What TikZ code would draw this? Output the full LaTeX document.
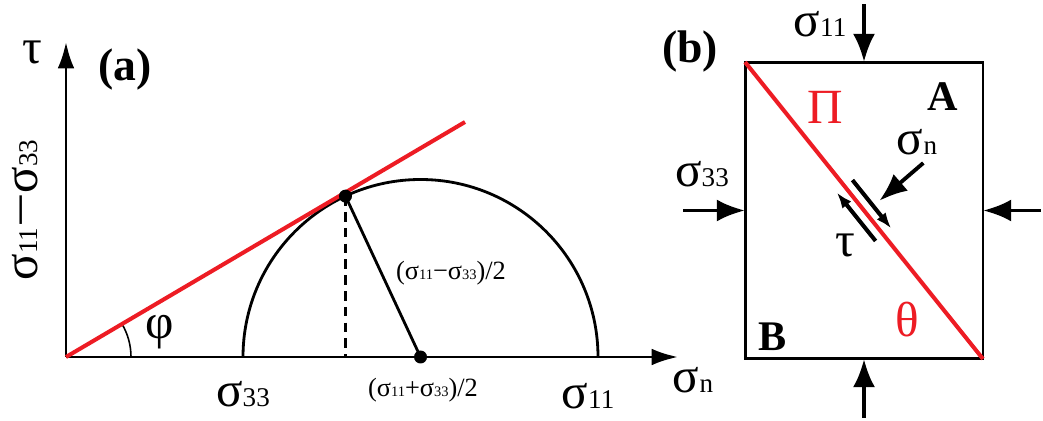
\documentclass[tikz,border=0pt]{standalone}
\usepackage{fontspec}
\setmainfont{Liberation Serif}
\usepackage{graphicx}
\usetikzlibrary{arrows.meta,calc}
\definecolor{planered}{RGB}{237,28,36}
\newcommand{\sg}[1]{σ\scalebox{0.55}{#1}}

\begin{document}
\begin{tikzpicture}[x=0.02cm, y=-0.02cm,
    axis/.style={line width=1.6pt, -{Latex[length=15pt, width=9.5pt]}},
    load/.style={line width=2.2pt, -{Latex[length=16pt, width=12.5pt]}},
    shear/.style={line width=2.3pt, -{Latex[length=9pt, width=6.5pt]}},
    plane/.style={line width=2.3pt, draw=planered},
    lbl/.style={inner sep=0pt, font=\fontsize{28}{32}\selectfont},
    small/.style={inner sep=0pt, font=\fontsize{15}{18}\selectfont},
    tag/.style={inner sep=0pt, font=\fontsize{26}{30}\selectfont\bfseries},
    dot/.style={circle, fill, inner sep=0pt, minimum size=0.26cm}
  ]
  \useasboundingbox (0,0) rectangle (1043,421);

  % (a) Mohr circle
  \coordinate (O) at (66,357);
  \coordinate (C) at (420.5,357);
  \coordinate (T) at ($(C)+(-115:177.5)$);
  \coordinate (xtip) at (678,357);
  \coordinate (ytip) at (66,42);
  \coordinate (lineend) at (465,122);

  \draw[line width=1.6pt] ($(C)+(177.5,0)$) arc[start angle=0, end angle=-180, radius=177.5];
  \draw[axis] (O) -- (xtip);
  \draw[axis] (O) -- (ytip);
  \draw[line width=1.6pt, dash pattern=on 5.5pt off 3.5pt] (T) -- (T |- O);
  \draw[line width=1.6pt] (T) -- (C);
  \draw[line width=0.9pt] ($(O)+(65,0)$) arc[start angle=0, end angle=-30.5, radius=65];
  \draw[plane] (O) -- (lineend);
  \node[dot] (Tdot) at (T) {};
  \node[dot] (Cdot) at (C) {};

  \node[lbl] (tauax) at (32,52) {τ};
  \node[tag] (taga) at (125,70) {(a)};
  \node[lbl, rotate=90] (diff) at (25,210) {\sg{11}\scalebox{1.25}[1]{−}\sg{33}};
  \node[lbl] (phi) at (160,332) {φ};
  \node[lbl] (s33) at (243,394) {\sg{33}};
  \node[lbl] (s11) at (588,396) {\sg{11}};
  \node[lbl] (snax) at (693,380) {\sg{n}};
  \node[small] (mean) at (423,390) {(\sg{11}+\sg{33})/2};
  \node[small] (rad) at (451,273) {(\sg{11}−\sg{33})/2};

  % (b) loaded block
  \node[draw, line width=1.7pt, minimum width=4.76cm, minimum height=5.94cm,
        inner sep=0pt, outer sep=0pt] (box) at (864,210.5) {};
  \draw[plane] (box.north west) -- (box.south east);
  \foreach \a/\dx/\dy in {north/0/-58, south/0/59, west/-62/0, east/58/0}
    \draw[load] ($(box.\a)+(\dx,\dy)$) -- (box.\a);

  \coordinate (M) at ($(box.north west)!0.5!(box.south east)$);
  \begin{scope}[shift={(M)}, rotate=-51.3]
    \draw[shear] (-31,-10) -- (31,-10);
    \draw[shear] (31,10) -- (-31,10);
    \draw[load] (0,-76) -- (2,-18);
  \end{scope}

  \node[tag] (tagb) at (690,52) {(b)};
  \node[lbl] (s11b) at (820,24) {\sg{11}};
  \node[lbl] (s33b) at (702,174) {\sg{33}};
  \node[tag, font=\fontsize{24}{28}\selectfont\bfseries] (A) at (943,97) {A};
  \node[tag, font=\fontsize{24}{28}\selectfont\bfseries] (B) at (773,337) {B};
  \node[lbl, text=planered, font=\fontsize{28}{32}\selectfont] (Pi) at (825,107) {Π};
  \node[lbl, text=planered, font=\fontsize{28}{32}\selectfont] (theta) at (907,320) {θ};
  \node[lbl] (snb) at (917,142) {\sg{n}};
  \node[lbl] (taub) at (845,245) {τ};
\end{tikzpicture}
\end{document}
